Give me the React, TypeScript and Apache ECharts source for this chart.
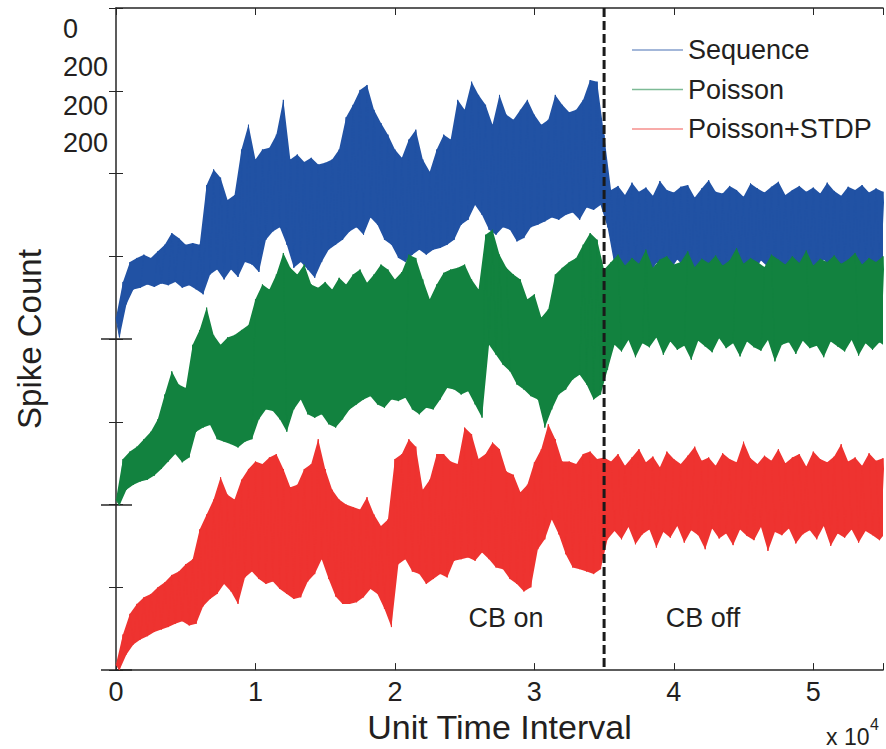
import React, { useEffect, useRef } from "react";
import * as echarts from "echarts";

// ---- data ----
const seriesNames = ["Sequence", "Poisson", "Poisson+STDP"];
const seriesColors = ["#2152a4", "#12823f", "#ee3330"];
const xTickLabels = ["0", "1", "2", "3", "4", "5"];
const topLeftLabels = ["0", "200", "200", "200"];
const cbSwitchX = 35000;
const stepX = 500; // spacing of the envelope samples (unit time)

// Sequence: upper / lower envelope of the noisy trace, every 500 units
const seqUpper = [
  426, 469, 493, 498, 502, 498, 506, 514, 528, 522,
  514, 516, 514, 586, 605, 595, 568, 574, 629, 659,
  617, 629, 631, 647, 689, 617, 623, 614, 619, 611,
  613, 617, 629, 668, 683, 701, 707, 677, 661, 647,
  629, 619, 641, 653, 617, 602, 629, 647, 641, 689,
  677, 711, 695, 683, 659, 695, 671, 665, 677, 689,
  671, 659, 665, 695, 683, 674, 677, 689, 713, 711,
  647,
  580, 585, 574, 589, 578, 583, 573, 591, 580, 577,
  584, 586, 571, 582, 592, 578, 576, 585, 580, 572,
  588, 582, 577, 584, 590, 574, 580, 585, 578, 583,
  576, 589, 579, 573, 584, 580, 586, 577, 582, 578,
];
const seqLower = [
  402, 442, 460, 462, 466, 463, 467, 465, 469, 462,
  465, 460, 454, 478, 484, 472, 484, 475, 493, 490,
  481, 520, 530, 535, 514, 486, 493, 484, 474, 493,
  508, 514, 520, 530, 535, 526, 547, 538, 520, 514,
  498, 493, 502, 508, 502, 508, 510, 514, 520, 538,
  544, 562, 550, 532, 526, 535, 532, 518, 522, 535,
  538, 542, 547, 544, 550, 553, 544, 559, 556, 562,
  535,
  489, 481, 493, 484, 490, 478, 492, 486, 483, 496,
  487, 479, 491, 485, 493, 475, 489, 484, 492, 486,
  481, 495, 487, 478, 491, 485, 493, 484, 489, 480,
  496, 486, 483, 490, 477, 492, 486, 484, 491, 487,
];
// Poisson
const poiUpper = [
  206, 255, 264, 270, 279, 288, 303, 333, 361, 345,
  341, 393, 411, 438, 405, 393, 402, 405, 411, 417,
  448, 466, 460, 478, 504, 486, 478, 490, 466, 462,
  469, 460, 474, 466, 478, 484, 468, 478, 490, 484,
  472, 481, 502, 498, 472, 448, 466, 480, 484, 486,
  490, 472, 460, 526, 532, 502, 486, 478, 472, 448,
  454, 426, 436, 478, 486, 493, 498, 514, 528, 520,
  484,
  493, 502, 489, 498, 491, 508, 486, 496, 500, 490,
  493, 506, 487, 497, 492, 501, 489, 495, 510, 491,
  498, 493, 487, 502, 496, 490, 500, 492, 507, 489,
  497, 493, 501, 491, 496, 504, 490, 498, 493, 500,
];
const poiLower = [
  199, 218, 224, 228, 230, 235, 243, 252, 261, 251,
  257, 288, 293, 296, 279, 276, 273, 269, 276, 279,
  303, 315, 313, 303, 288, 315, 327, 309, 305, 309,
  297, 293, 303, 315, 321, 327, 331, 321, 317, 327,
  325, 329, 315, 309, 317, 315, 327, 341, 339, 333,
  337, 321, 305, 393, 381, 369, 361, 345, 339, 331,
  327, 293, 315, 333, 339, 351, 357, 345, 327, 333,
  363,
  393, 385, 399, 378, 395, 390, 402, 381, 397, 387,
  392, 375, 398, 391, 384, 401, 389, 395, 379, 397,
  390, 386, 399, 373, 393, 396, 382, 398, 389, 392,
  378, 397, 391, 385, 399, 380, 395, 387, 396, 390,
];
// Poisson+STDP
const stdpUpper = [
  7, 43, 68, 80, 88, 92, 100, 106, 115, 119,
  128, 134, 170, 188, 206, 233, 212, 206, 230, 243,
  252, 249, 257, 261, 243, 221, 224, 243, 249, 279,
  243, 218, 206, 200, 197, 194, 209, 188, 174, 182,
  255, 261, 279, 270, 218, 230, 261, 261, 252, 249,
  293, 285, 255, 261, 275, 267, 240, 236, 215, 224,
  251, 267, 297, 279, 252, 252, 249, 261, 264, 255,
  257,
  252, 261, 247, 257, 267, 251, 258, 245, 264, 255,
  249, 259, 270, 253, 257, 247, 262, 255, 251, 276,
  256, 249, 259, 253, 267, 250, 257, 261, 246, 264,
  255, 251, 258, 273, 252, 257, 247, 262, 253, 256,
];
const stdpLower = [
  0, 19, 31, 37, 41, 46, 49, 52, 56, 59,
  54, 56, 77, 86, 92, 104, 95, 80, 112, 119,
  110, 104, 107, 98, 92, 86, 88, 107, 116, 134,
  110, 89, 80, 80, 82, 88, 98, 92, 74, 52,
  128, 134, 119, 116, 104, 110, 116, 112, 132, 134,
  136, 132, 142, 134, 124, 122, 110, 104, 95, 100,
  146, 158, 182, 164, 140, 124, 122, 119, 116, 122,
  158,
  168, 158, 173, 152, 164, 170, 148, 167, 160, 174,
  154, 169, 163, 146, 171, 159, 165, 151, 170, 162,
  157, 173, 144, 167, 163, 171, 153, 164, 169, 158,
  174, 150, 165, 160, 170, 154, 168, 163, 157, 167,
];

const FONT = "'Liberation Sans', Arial, Helvetica, sans-serif";
const TEXT = "#231f20";
const AXIS = "#262626";

function trace(upper: number[], lower: number[]) {
  const pts: [number, number][] = [];
  for (let i = 0; i < upper.length; i++) {
    pts.push([i * stepX, upper[i]]);
    pts.push([i * stepX + stepX / 2, lower[i]]);
  }
  return pts;
}

export default function App() {
  const ref = useRef<HTMLDivElement>(null);
  useEffect(() => {
    if (!ref.current) return;
    const chart = echarts.init(ref.current, undefined, { renderer: "svg" });
    const envelopes = [
      [seqUpper, seqLower],
      [poiUpper, poiLower],
      [stdpUpper, stdpLower],
    ];
    const series: any[] = [];
    envelopes.forEach(([u, l], k) => {
      // dense noise band between the read envelopes
      series.push({
        type: "custom",
        name: seriesNames[k] + " band",
        data: [0],
        silent: true,
        clip: true,
        z: 2 + 2 * k,
        renderItem: (_p: any, api: any) => {
          const pts: number[][] = [];
          for (let i = 0; i < u.length; i++) pts.push(api.coord([i * stepX, u[i]]));
          for (let i = l.length - 1; i >= 0; i--) pts.push(api.coord([i * stepX + stepX / 2, l[i]]));
          return {
            type: "polygon",
            shape: { points: pts },
            style: { fill: seriesColors[k], opacity: 1 },
          };
        },
      });
      series.push({
        type: "line",
        name: seriesNames[k],
        data: trace(u, l),
        symbol: "none",
        showSymbol: false,
        lineStyle: { color: seriesColors[k], width: 1 },
        itemStyle: { color: seriesColors[k] },
        z: 3 + 2 * k,
        silent: true,
      });
    });
    // CB on / off switch line, drawn above all traces
    series.push({
      type: "custom",
      name: "CB switch",
      data: [[cbSwitchX]],
      z: 20,
      silent: true,
      clip: true,
      renderItem: (_p: any, api: any) => {
        const x = api.value(0);
        const top = api.coord([x, 800]);
        const bottom = api.coord([x, 0]);
        return {
          type: "line",
          shape: { x1: top[0], y1: top[1], x2: bottom[0], y2: bottom[1] },
          style: { stroke: "#1a1a1a", lineWidth: 3, lineDash: [9, 4] },
        };
      },
    });

    const baseY = { type: "value", min: 0, max: 800, interval: 100, splitLine: { show: false } };
    const majorTicks = [0, 200, 400];

    const option: any = {
      animation: false,
      textStyle: { fontFamily: FONT },
      grid: { left: 116, right: 0, top: 8, bottom: 78, containLabel: false },
      legend: {
        data: seriesNames,
        orient: "vertical",
        left: 627,
        top: 30,
        icon: "rect",
        itemWidth: 51,
        itemHeight: 1.5,
        itemGap: 9.5,
        itemStyle: { opacity: 0.55 },
        textStyle: { fontSize: 27, color: TEXT, fontFamily: FONT, lineHeight: 30 },
      },
      xAxis: [
        {
          type: "value",
          position: "bottom",
          min: 0,
          max: 55000,
          interval: 10000,
          axisLine: { show: true, onZero: false, lineStyle: { color: AXIS, width: 1.5 } },
          axisTick: { show: true, inside: true, length: 7, lineStyle: { color: AXIS, width: 1 } },
          axisLabel: {
            show: true,
            margin: 8,
            fontSize: 27,
            color: TEXT,
            fontFamily: FONT,
            formatter: (v: number) => xTickLabels[Math.round(v / 10000)] ?? "",
          },
          splitLine: { show: false },
          name: "Unit Time Interval",
          nameLocation: "middle",
          nameGap: 27,
          nameTextStyle: { fontSize: 34, color: TEXT, fontFamily: FONT },
        },
        {
          type: "value",
          position: "top",
          min: 0,
          max: 55000,
          interval: 10000,
          axisLine: { show: true, onZero: false, lineStyle: { color: AXIS, width: 1.5 } },
          axisTick: { show: true, inside: true, length: 7, lineStyle: { color: AXIS, width: 1 } },
          axisLabel: { show: false },
          splitLine: { show: false },
        },
      ],
      yAxis: [
        {
          ...baseY,
          position: "left",
          axisLine: { show: true, onZero: false, lineStyle: { color: AXIS, width: 1.5 } },
          axisTick: { show: true, inside: true, length: 7, lineStyle: { color: AXIS, width: 1 } },
          axisLabel: { show: false },
          name: "Spike Count",
          nameLocation: "middle",
          nameGap: 70,
          nameRotate: 90,
          nameTextStyle: { fontSize: 33, color: TEXT, fontFamily: FONT },
        },
        {
          ...baseY,
          position: "right",
          axisLine: { show: false },
          axisTick: { show: true, inside: true, length: 7, lineStyle: { color: AXIS, width: 1 } },
          axisLabel: { show: false },
        },
        {
          ...baseY,
          position: "left",
          axisLine: { show: false },
          axisTick: { show: true, inside: true, length: 16, customValues: majorTicks, lineStyle: { color: AXIS, width: 1.5 } },
          axisLabel: { show: false },
        },
        {
          ...baseY,
          position: "left",
          axisLine: { show: false },
          axisTick: { show: true, inside: false, length: 15, customValues: majorTicks, lineStyle: { color: AXIS, width: 1.5 } },
          axisLabel: { show: false },
        },
      ],
      series,
      graphic: [
        ...topLeftLabels.map((t, i) => ({
          type: "text",
          x: 63,
          y: [29, 67, 106, 143][i],
          style: { text: t, fontSize: 27, fontFamily: FONT, fill: TEXT, verticalAlign: "middle", align: "left" },
        })),
        {
          type: "text",
          x: 506,
          y: 618,
          style: { text: "CB on", fontSize: 27, fontFamily: FONT, fill: TEXT, align: "center", verticalAlign: "middle" },
        },
        {
          type: "text",
          x: 703,
          y: 618,
          style: { text: "CB off", fontSize: 27, fontFamily: FONT, fill: TEXT, align: "center", verticalAlign: "middle" },
        },
        {
          type: "text",
          x: 826,
          y: 737,
          style: { text: "x 10", fontSize: 23, fontFamily: FONT, fill: TEXT, align: "left", verticalAlign: "middle" },
        },
        {
          type: "text",
          x: 870,
          y: 724,
          style: { text: "4", fontSize: 16, fontFamily: FONT, fill: TEXT, align: "left", verticalAlign: "middle" },
        },
      ],
    };
    chart.setOption(option);
    return () => chart.dispose();
  }, []);
  return (
    <div style={{ position: "absolute", left: 0, top: 0, width: 886, height: 749, overflow: "hidden", background: "#fff" }}>
      <div ref={ref} style={{ width: 886, height: 749 }} />
    </div>
  );
}
